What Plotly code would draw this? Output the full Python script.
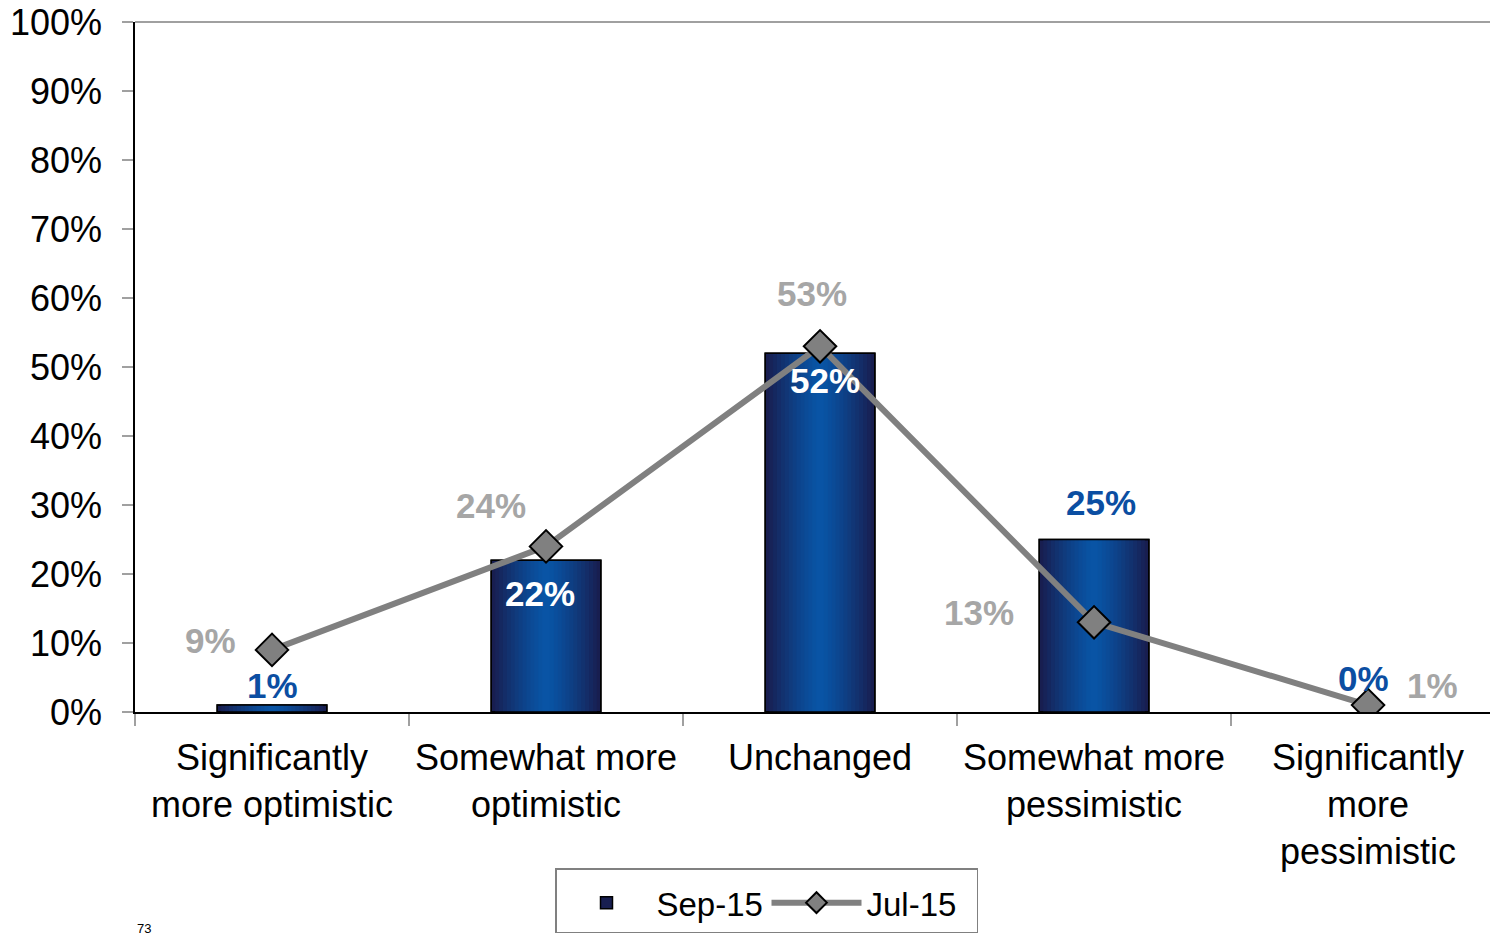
import plotly.graph_objects as go

# ---- data -------------------------------------------------------------
categories = [
    "Significantly<br>more optimistic",
    "Somewhat more<br>optimistic",
    "Unchanged",
    "Somewhat more<br>pessimistic",
    "Significantly<br>more<br>pessimistic",
]
sep15 = [1, 22, 52, 25, 0]   # Sep-15 (bars), percent
jul15 = [9, 24, 53, 13, 1]   # Jul-15 (line), percent
y_ticks = list(range(0, 101, 10))

# ---- style ------------------------------------------------------------
FONT = "Liberation Sans, Arial, sans-serif"
EDGE = (24, 30, 80)       # dark navy at bar edges
CENTER = (8, 86, 168)     # bright blue at bar centre
BAR_W = 0.40
N_LAYERS = 14
LINE_GREY = "#808080"
LABEL_GREY = "#a6a6a6"
LABEL_BLUE = "#0b4ea2"

# label offsets (px) for each series' value labels
bar_label_shift = [(0, 20), (-6, -33), (5, -27), (7, 37), (-5, 34)]
bar_label_color = [LABEL_BLUE, "white", "white", LABEL_BLUE, LABEL_BLUE]
line_label_shift = [(-62, 9), (-55, 41), (-8, 53), (-115, 10), (64, 20)]


def mix(a, b, t):
    return "rgb({},{},{})".format(*[round(a[i] + (b[i] - a[i]) * t) for i in range(3)])


# no outline on empty bars
outline_w = [1.5 if v > 0 else 0 for v in sep15]

fig = go.Figure()

# bars with a horizontal gradient: stacked overlay layers, narrowing toward the centre
for k in range(N_LAYERS):
    frac = 1 - k / N_LAYERS          # 1 at the edge, ->0 at the centre
    t = 1 - frac ** 1.3
    fig.add_trace(go.Bar(
        x=categories, y=sep15, width=BAR_W * frac,
        marker=dict(color=mix(EDGE, CENTER, t),
                    line=dict(color="black", width=outline_w if k == 0 else 0)),
        name="Sep-15", showlegend=(k == 0), hoverinfo="skip",
    ))

# outline on top of the gradient layers
fig.add_trace(go.Bar(
    x=categories, y=sep15, width=BAR_W,
    marker=dict(color="rgba(0,0,0,0)", line=dict(color="black", width=outline_w)),
    showlegend=False, hoverinfo="skip",
))

fig.add_trace(go.Scatter(
    x=categories, y=jul15, name="Jul-15", mode="lines+markers",
    line=dict(color=LINE_GREY, width=6),
    marker=dict(symbol="diamond", size=25, color=LINE_GREY,
                line=dict(color="black", width=2)),
))

annotations = []
for i, c in enumerate(categories):
    dx, dy = bar_label_shift[i]
    annotations.append(dict(
        x=c, y=sep15[i], xref="x", yref="y", text=f"{sep15[i]}%",
        showarrow=False, xshift=dx, yshift=dy,
        font=dict(family=FONT, size=35, color=bar_label_color[i], weight="bold"),
    ))
    dx, dy = line_label_shift[i]
    annotations.append(dict(
        x=c, y=jul15[i], xref="x", yref="y", text=f"{jul15[i]}%",
        showarrow=False, xshift=dx, yshift=dy,
        font=dict(family=FONT, size=35, color=LABEL_GREY, weight="bold"),
    ))

# page number at the bottom-left edge
annotations.append(dict(
    x=0, y=(712 - 919) / 690, xref="paper", yref="paper", text="73",
    showarrow=False, xanchor="left", yanchor="top",
    font=dict(family=FONT, size=13, color="black"),
))

fig.update_layout(
    width=1490, height=935,
    margin=dict(l=135, r=0, t=22, b=223, autoexpand=False),
    paper_bgcolor="white", plot_bgcolor="white",
    barmode="overlay",
    font=dict(family=FONT, size=36, color="black"),
    showlegend=True,
    legend=dict(
        orientation="h", x=(555 - 135) / 1355, xanchor="left",
        y=(712 - 868) / 690, yanchor="top",
        bordercolor="#808080", borderwidth=1.5, bgcolor="white",
        font=dict(family=FONT, size=33, color="black"),
        itemwidth=90, entrywidth=105,
        title=dict(text=" ", side="top", font=dict(size=4)),
    ),
    xaxis=dict(
        type="category", range=[-0.5, 4.445], tickangle=0, automargin=False,
        tickson="boundaries", ticks="outside", ticklen=12, tickcolor="#a0a0a0",
        tickwidth=2, showline=True, linecolor="black", linewidth=1.5,
        showgrid=False, zeroline=False, ticklabelstandoff=13,
        tickfont=dict(family=FONT, size=36, color="black"),
    ),
    yaxis=dict(
        range=[0, 100], tickvals=y_ticks, ticktext=[f"{v}%" for v in y_ticks],
        automargin=False,
        ticks="outside", ticklen=11, tickcolor="#a0a0a0", tickwidth=2,
        showline=True, linecolor="black", linewidth=1.5,
        showgrid=False, zeroline=False, ticklabelstandoff=13,
        tickfont=dict(family=FONT, size=36, color="black"),
    ),
    # inner half of the crossing y ticks
    yaxis2=dict(
        overlaying="y", side="left", range=[0, 100], tickvals=y_ticks[1:],
        automargin=False,
        ticks="inside", ticklen=10, tickcolor="#a0a0a0", tickwidth=2,
        showticklabels=False, showline=False, showgrid=False, zeroline=False,
    ),
    shapes=[dict(type="line", xref="paper", yref="paper", x0=0, x1=1, y0=1, y1=1,
                 line=dict(color="#a0a0a0", width=2))],
    annotations=annotations,
)

fig.write_html("out.html")
